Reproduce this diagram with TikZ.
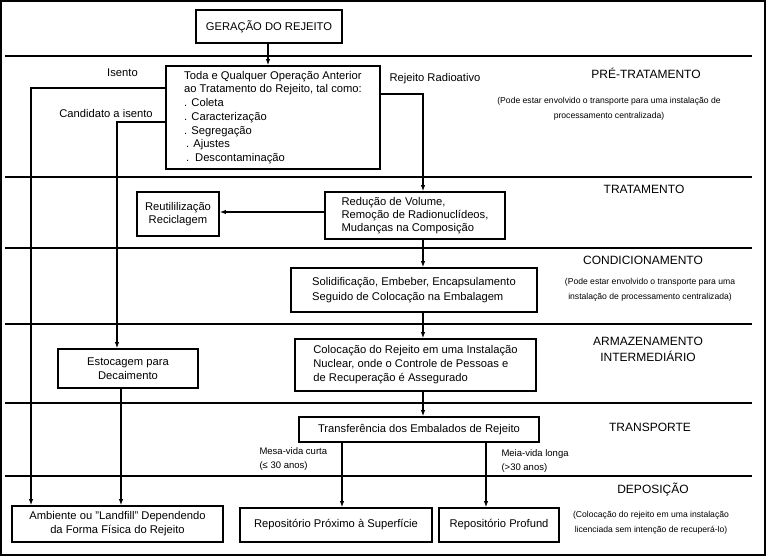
\documentclass[tikz,border=0pt]{standalone}
\usepackage{fontspec}
\setmainfont{Liberation Sans}
\usetikzlibrary{arrows.meta}
\begin{document}
\begin{tikzpicture}[x=1pt,y=-1pt,
 box/.style={draw, line width=1.8pt, inner sep=0pt, font=\fontsize{11.2}{13.5}\selectfont, align=center},
 conn/.style={line width=1.1pt, -{Latex[length=6pt,width=4.5pt]}},
 sepline/.style={line width=1.2pt},
 title/.style={font=\fontsize{12}{16}\selectfont, align=center},
 note/.style={font=\fontsize{8.6}{15}\selectfont, align=center},
 lbl/.style={font=\fontsize{11.2}{13}\selectfont},
 small/.style={font=\fontsize{9.5}{14}\selectfont, align=left, anchor=west}]
\useasboundingbox (0,0) rectangle (766,556);
\draw[line width=2pt] (1,1) rectangle (765,555);
\foreach \yy in {56,177,248,324,403,476} \draw[sepline] (5,\yy) -- (752,\yy);

\node[box, minimum width=146pt, minimum height=33pt] (gen) at (269,26.5) {GERAÇÃO DO REJEITO};
\node[box, minimum width=214pt, minimum height=103pt, align=left, font=\fontsize{11.2}{13.7}\selectfont] (pre) at (273,117.5)
 {Toda e Qualquer Operação Anterior\\ao Tratamento do Rejeito, tal como:\\. Coleta\\. Caracterização\\. Segregação\\\,. Ajustes\\\,.\, Descontaminação};
\node[box, minimum width=180pt, minimum height=47pt, align=left, font=\fontsize{11.2}{13}\selectfont] (treat) at (415,215.5)
 {Redução de Volume,\\Remoção de Radionuclídeos,\\Mudanças na Composição};
\node[box, minimum width=82pt, minimum height=44pt] (reut) at (178,214) {Reutililização\\Reciclagem};
\node[box, minimum width=246pt, minimum height=44pt, align=left, font=\fontsize{11.2}{15}\selectfont] (cond) at (414,290)
 {Solidificação, Embeber, Encapsulamento\\Seguido de Colocação na Embalagem};
\node[box, minimum width=241pt, minimum height=52pt, align=left, font=\fontsize{11.2}{14}\selectfont] (stor) at (415.5,365)
 {Colocação do Rejeito em uma Instalação\\Nuclear, onde o Controle de Pessoas e\\de Recuperação é Assegurado};
\node[box, minimum width=140pt, minimum height=39pt, font=\fontsize{11.2}{14}\selectfont] (esto) at (128,368.5) {Estocagem para\\Decaimento};
\node[box, minimum width=240pt, minimum height=25pt] (trans) at (419,429.5) {Transferência dos Embalados de Rejeito};
\node[box, minimum width=211pt, minimum height=36pt, font=\fontsize{11.2}{14}\selectfont] (amb) at (117.5,524) {Ambiente ou "Landfill" Dependendo\\da Forma Física do Rejeito};
\node[box, minimum width=192pt, minimum height=34pt] (rprox) at (336,525) {Repositório Próximo à Superfície};
\node[box, minimum width=120pt, minimum height=34pt] (rprof) at (499,525) {Repositório Profund};

\coordinate (gx) at (268,0);
\draw[conn] (gen.south -| gx) -- (pre.north -| gx);
\coordinate (iso) at (31,88);
\draw[conn] (pre.west |- iso) -- (iso) -- (iso |- amb.north);
\coordinate (cand) at (117,122);
\draw[conn] (pre.west |- cand) -- (cand) -- (cand |- esto.north);
\coordinate (ex) at (121,0);
\draw[conn] (esto.south -| ex) -- (amb.north -| ex);
\coordinate (rr) at (423,94);
\draw[conn] (pre.east |- rr) -- (rr) -- (rr |- treat.north);
\coordinate (ty) at (0,212);
\draw[conn] (treat.west |- ty) -- (reut.east |- ty);
\draw[conn] (treat.south -| rr) -- (cond.north -| rr);
\draw[conn] (cond.south -| rr) -- (stor.north -| rr);
\draw[conn] (stor.south -| rr) -- (trans.north -| rr);
\coordinate (sx) at (342,0);
\coordinate (lx) at (486,0);
\draw[conn] (trans.south -| sx) -- (rprox.north -| sx);
\draw[conn] (trans.south -| lx) -- (rprof.north -| lx);

\node[lbl] (isento) at (122.5,73) {Isento};
\node[lbl] (candl) at (106,113) {Candidato a isento};
\node[lbl, anchor=west] (rrl) at (386,79) {Rejeito Radioativo};
\node[small] (curta) at (256,459.5) {Mesa-vida curta\\(≤ 30 anos)};
\node[small] (longa) at (498,461.5) {Meia-vida longa\\(>30 anos)};

\node[title] (t1) at (646,73) {PRÉ-TRATAMENTO};
\node[note] (n1) at (609,108.5) {(Pode estar envolvido o transporte para uma instalação de\\processamento centralizada)};
\node[title] (t2) at (644,189) {TRATAMENTO};
\node[title] (t3) at (643,260) {CONDICIONAMENTO};
\node[note] (n3) at (650,290) {(Pode estar envolvido o transporte para uma\\instalação de processamento centralizada)};
\node[title] (t4) at (648,349) {ARMAZENAMENTO\\INTERMEDIÁRIO};
\node[title] (t5) at (650,427) {TRANSPORTE};
\node[title] (t6) at (653,490) {DEPOSIÇÃO};
\node[note] (n6) at (651,522.5) {(Colocação do rejeito em uma instalação\\licenciada sem intenção de recuperá-lo)};
\end{tikzpicture}
\end{document}
